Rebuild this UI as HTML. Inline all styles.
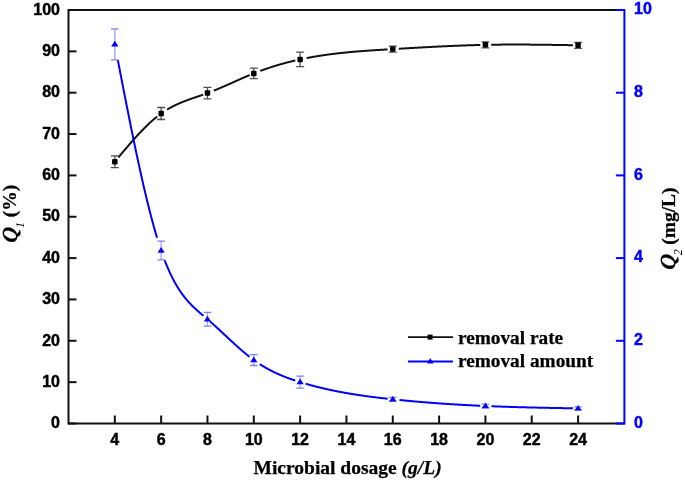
<!DOCTYPE html>
<html><head><meta charset="utf-8"><style>
html,body{margin:0;padding:0;background:#fff;}
svg{display:block;will-change:transform;}
.tl{font-family:"Liberation Sans",sans-serif;font-weight:bold;font-size:16px;stroke-width:0.45px;}
.lg{font-family:"Liberation Serif",serif;font-weight:bold;font-size:19.3px;stroke:#000;stroke-width:0.25px;}
.sub{font-family:"Liberation Serif",serif;font-style:italic;font-size:12px;}
.ti{font-family:"Liberation Serif",serif;font-weight:bold;font-size:19.5px;stroke:#000;stroke-width:0.25px;}
</style></head><body>
<svg width="685" height="482" viewBox="0 0 685 482">
<rect width="685" height="482" fill="#fff"/>
<line x1="68.5" y1="10.0" x2="624.4" y2="10.0" stroke="#111" stroke-width="2"/>
<line x1="68.5" y1="423.5" x2="624.4" y2="423.5" stroke="#111" stroke-width="2"/>
<line x1="68.5" y1="9.0" x2="68.5" y2="424.5" stroke="#111" stroke-width="2"/>
<line x1="624.4" y1="9.0" x2="624.4" y2="424.5" stroke="#0000ff" stroke-width="2"/>
<line x1="68.5" y1="423.50" x2="76.5" y2="423.50" stroke="#111" stroke-width="2"/>
<text x="60" y="428.20" text-anchor="end" class="tl" stroke="#000">0</text>
<line x1="68.5" y1="382.15" x2="76.5" y2="382.15" stroke="#111" stroke-width="2"/>
<text x="60" y="386.85" text-anchor="end" class="tl" stroke="#000">10</text>
<line x1="68.5" y1="340.80" x2="76.5" y2="340.80" stroke="#111" stroke-width="2"/>
<text x="60" y="345.50" text-anchor="end" class="tl" stroke="#000">20</text>
<line x1="68.5" y1="299.45" x2="76.5" y2="299.45" stroke="#111" stroke-width="2"/>
<text x="60" y="304.15" text-anchor="end" class="tl" stroke="#000">30</text>
<line x1="68.5" y1="258.10" x2="76.5" y2="258.10" stroke="#111" stroke-width="2"/>
<text x="60" y="262.80" text-anchor="end" class="tl" stroke="#000">40</text>
<line x1="68.5" y1="216.75" x2="76.5" y2="216.75" stroke="#111" stroke-width="2"/>
<text x="60" y="221.45" text-anchor="end" class="tl" stroke="#000">50</text>
<line x1="68.5" y1="175.40" x2="76.5" y2="175.40" stroke="#111" stroke-width="2"/>
<text x="60" y="180.10" text-anchor="end" class="tl" stroke="#000">60</text>
<line x1="68.5" y1="134.05" x2="76.5" y2="134.05" stroke="#111" stroke-width="2"/>
<text x="60" y="138.75" text-anchor="end" class="tl" stroke="#000">70</text>
<line x1="68.5" y1="92.70" x2="76.5" y2="92.70" stroke="#111" stroke-width="2"/>
<text x="60" y="97.40" text-anchor="end" class="tl" stroke="#000">80</text>
<line x1="68.5" y1="51.35" x2="76.5" y2="51.35" stroke="#111" stroke-width="2"/>
<text x="60" y="56.05" text-anchor="end" class="tl" stroke="#000">90</text>
<line x1="68.5" y1="10.00" x2="76.5" y2="10.00" stroke="#111" stroke-width="2"/>
<text x="60" y="14.70" text-anchor="end" class="tl" stroke="#000">100</text>
<line x1="615.9" y1="423.50" x2="624.4" y2="423.50" stroke="#0000ff" stroke-width="2"/>
<text x="634" y="427.70" class="tl" fill="#0000ff" stroke="#0000ff">0</text>
<line x1="615.9" y1="340.80" x2="624.4" y2="340.80" stroke="#0000ff" stroke-width="2"/>
<text x="634" y="345.00" class="tl" fill="#0000ff" stroke="#0000ff">2</text>
<line x1="615.9" y1="258.10" x2="624.4" y2="258.10" stroke="#0000ff" stroke-width="2"/>
<text x="634" y="262.30" class="tl" fill="#0000ff" stroke="#0000ff">4</text>
<line x1="615.9" y1="175.40" x2="624.4" y2="175.40" stroke="#0000ff" stroke-width="2"/>
<text x="634" y="179.60" class="tl" fill="#0000ff" stroke="#0000ff">6</text>
<line x1="615.9" y1="92.70" x2="624.4" y2="92.70" stroke="#0000ff" stroke-width="2"/>
<text x="634" y="96.90" class="tl" fill="#0000ff" stroke="#0000ff">8</text>
<line x1="615.9" y1="10.00" x2="624.4" y2="10.00" stroke="#0000ff" stroke-width="2"/>
<text x="634" y="14.20" class="tl" fill="#0000ff" stroke="#0000ff">10</text>
<line x1="114.82" y1="423.5" x2="114.82" y2="415.5" stroke="#111" stroke-width="2"/>
<text x="114.82" y="445" text-anchor="middle" class="tl" stroke="#000">4</text>
<line x1="161.15" y1="423.5" x2="161.15" y2="415.5" stroke="#111" stroke-width="2"/>
<text x="161.15" y="445" text-anchor="middle" class="tl" stroke="#000">6</text>
<line x1="207.47" y1="423.5" x2="207.47" y2="415.5" stroke="#111" stroke-width="2"/>
<text x="207.47" y="445" text-anchor="middle" class="tl" stroke="#000">8</text>
<line x1="253.80" y1="423.5" x2="253.80" y2="415.5" stroke="#111" stroke-width="2"/>
<text x="253.80" y="445" text-anchor="middle" class="tl" stroke="#000">10</text>
<line x1="300.12" y1="423.5" x2="300.12" y2="415.5" stroke="#111" stroke-width="2"/>
<text x="300.12" y="445" text-anchor="middle" class="tl" stroke="#000">12</text>
<line x1="346.45" y1="423.5" x2="346.45" y2="415.5" stroke="#111" stroke-width="2"/>
<text x="346.45" y="445" text-anchor="middle" class="tl" stroke="#000">14</text>
<line x1="392.77" y1="423.5" x2="392.77" y2="415.5" stroke="#111" stroke-width="2"/>
<text x="392.77" y="445" text-anchor="middle" class="tl" stroke="#000">16</text>
<line x1="439.10" y1="423.5" x2="439.10" y2="415.5" stroke="#111" stroke-width="2"/>
<text x="439.10" y="445" text-anchor="middle" class="tl" stroke="#000">18</text>
<line x1="485.42" y1="423.5" x2="485.42" y2="415.5" stroke="#111" stroke-width="2"/>
<text x="485.42" y="445" text-anchor="middle" class="tl" stroke="#000">20</text>
<line x1="531.75" y1="423.5" x2="531.75" y2="415.5" stroke="#111" stroke-width="2"/>
<text x="531.75" y="445" text-anchor="middle" class="tl" stroke="#000">22</text>
<line x1="578.08" y1="423.5" x2="578.08" y2="415.5" stroke="#111" stroke-width="2"/>
<text x="578.08" y="445" text-anchor="middle" class="tl" stroke="#000">24</text>
<path d="M118.32,157.50 L118.57,157.20 L118.82,156.90 L119.07,156.60 L119.32,156.30 L119.57,156.00 L119.82,155.70 L120.07,155.40 L120.32,155.10 L120.57,154.80 L120.82,154.50 L121.07,154.21 L121.32,153.91 L121.57,153.61 L121.82,153.31 L122.07,153.02 L122.32,152.72 L122.57,152.42 L122.82,152.12 L123.07,151.83 L123.32,151.53 L123.57,151.23 L123.82,150.94 L124.07,150.64 L124.32,150.35 L124.57,150.05 L124.82,149.76 L125.07,149.46 L125.32,149.17 L125.57,148.87 L125.82,148.58 L126.07,148.29 L126.32,147.99 L126.57,147.70 L126.82,147.41 L127.07,147.12 L127.32,146.82 L127.57,146.53 L127.82,146.24 L128.07,145.95 L128.32,145.66 L128.57,145.37 L128.82,145.08 L129.07,144.79 L129.32,144.50 L129.57,144.21 L129.82,143.93 L130.07,143.64 L130.32,143.35 L130.57,143.06 L130.82,142.78 L131.07,142.49 L131.32,142.21 L131.57,141.92 L131.82,141.64 L132.07,141.35 L132.32,141.07 L132.57,140.79 L132.82,140.50 L133.07,140.22 L133.32,139.94 L133.57,139.66 L133.82,139.38 L134.07,139.10 L134.32,138.82 L134.57,138.54 L134.82,138.26 L135.07,137.99 L135.32,137.71 L135.57,137.43 L135.82,137.16 L136.07,136.88 L136.32,136.61 L136.57,136.33 L136.82,136.06 L137.07,135.79 L137.32,135.51 L137.57,135.24 L137.82,134.97 L138.07,134.70 L138.32,134.43 L138.57,134.16 L138.82,133.89 L139.07,133.63 L139.32,133.36 L139.57,133.09 L139.82,132.83 L140.07,132.56 L140.32,132.30 L140.57,132.04 L140.82,131.77 L141.07,131.51 L141.32,131.25 L141.57,130.99 L141.82,130.73 L142.07,130.47 L142.32,130.21 L142.57,129.96 L142.82,129.70 L143.07,129.44 L143.32,129.19 L143.57,128.93 L143.82,128.68 L144.07,128.43 L144.32,128.18 L144.57,127.92 L144.82,127.67 L145.07,127.43 L145.32,127.18 L145.57,126.93 L145.82,126.68 L146.07,126.44 L146.32,126.19 L146.57,125.95 L146.82,125.70 L147.07,125.46 L147.32,125.22 L147.57,124.98 L147.82,124.74 L148.07,124.50 L148.32,124.26 L148.57,124.03 L148.82,123.79 L149.07,123.56 L149.32,123.32 L149.57,123.09 L149.82,122.86 L150.07,122.63 L150.32,122.40 L150.57,122.17 L150.82,121.94 L151.07,121.71 L151.32,121.49 L151.57,121.26 L151.82,121.04 L152.07,120.82 L152.32,120.60 L152.57,120.38 L152.82,120.16 L153.07,119.94 L153.32,119.72 L153.57,119.50 L153.82,119.29 L154.07,119.07 L154.32,118.86 L154.57,118.65 L154.82,118.44 L155.07,118.23 L155.32,118.02 L155.57,117.81 L155.82,117.61 L156.07,117.40 L156.32,117.20 L156.57,116.99 L156.82,116.79 L157.07,116.59 M167.15,109.55 L167.40,109.40 L167.65,109.25 L167.90,109.10 L168.15,108.96 L168.40,108.81 L168.65,108.66 L168.90,108.52 L169.15,108.38 L169.40,108.24 L169.65,108.10 L169.90,107.96 L170.15,107.82 L170.40,107.68 L170.65,107.54 L170.90,107.41 L171.15,107.27 L171.40,107.14 L171.65,107.01 L171.90,106.87 L172.15,106.74 L172.40,106.61 L172.65,106.48 L172.90,106.35 L173.15,106.23 L173.40,106.10 L173.65,105.97 L173.90,105.85 L174.15,105.72 L174.40,105.60 L174.65,105.48 L174.90,105.36 L175.15,105.24 L175.40,105.12 L175.65,105.00 L175.90,104.88 L176.15,104.76 L176.40,104.64 L176.65,104.53 L176.90,104.41 L177.15,104.30 L177.40,104.18 L177.65,104.07 L177.90,103.96 L178.15,103.85 L178.40,103.74 L178.65,103.62 L178.90,103.52 L179.15,103.41 L179.40,103.30 L179.65,103.19 L179.90,103.08 L180.15,102.98 L180.40,102.87 L180.65,102.76 L180.90,102.66 L181.15,102.56 L181.40,102.45 L181.65,102.35 L181.90,102.25 L182.15,102.15 L182.40,102.04 L182.65,101.94 L182.90,101.84 L183.15,101.74 L183.40,101.64 L183.65,101.55 L183.90,101.45 L184.15,101.35 L184.40,101.25 L184.65,101.16 L184.90,101.06 L185.15,100.96 L185.40,100.87 L185.65,100.77 L185.90,100.68 L186.15,100.58 L186.40,100.49 L186.65,100.40 L186.90,100.30 L187.15,100.21 L187.40,100.12 L187.65,100.03 L187.90,99.94 L188.15,99.84 L188.40,99.75 L188.65,99.66 L188.90,99.57 L189.15,99.48 L189.40,99.39 L189.65,99.30 L189.90,99.22 L190.15,99.13 L190.40,99.04 L190.65,98.95 L190.90,98.86 L191.15,98.77 L191.40,98.69 L191.65,98.60 L191.90,98.51 L192.15,98.42 L192.40,98.34 L192.65,98.25 L192.90,98.16 L193.15,98.08 L193.40,97.99 L193.65,97.91 L193.90,97.82 L194.15,97.73 L194.40,97.65 L194.65,97.56 L194.90,97.48 L195.15,97.39 L195.40,97.31 L195.65,97.22 L195.90,97.14 L196.15,97.05 L196.40,96.97 L196.65,96.88 L196.90,96.80 L197.15,96.71 L197.40,96.63 L197.65,96.54 L197.90,96.46 L198.15,96.37 L198.40,96.29 L198.65,96.20 L198.90,96.12 L199.15,96.03 L199.40,95.95 L199.65,95.86 L199.90,95.78 L200.15,95.69 L200.40,95.60 L200.65,95.52 L200.90,95.43 L201.15,95.35 L201.40,95.26 L201.65,95.17 L201.90,95.09 L202.15,95.00 L202.40,94.91 L202.65,94.83 L202.90,94.74 L203.15,94.65 M213.72,90.68 L213.97,90.58 L214.22,90.48 L214.47,90.38 L214.72,90.28 L214.97,90.18 L215.22,90.07 L215.47,89.97 L215.72,89.87 L215.97,89.77 L216.22,89.66 L216.47,89.56 L216.72,89.46 L216.97,89.35 L217.22,89.25 L217.47,89.14 L217.72,89.04 L217.97,88.93 L218.22,88.83 L218.47,88.72 L218.72,88.62 L218.97,88.51 L219.22,88.41 L219.47,88.30 L219.72,88.20 L219.97,88.09 L220.22,87.98 L220.47,87.88 L220.72,87.77 L220.97,87.66 L221.22,87.55 L221.47,87.45 L221.72,87.34 L221.97,87.23 L222.22,87.12 L222.47,87.02 L222.72,86.91 L222.97,86.80 L223.22,86.69 L223.47,86.58 L223.72,86.47 L223.97,86.36 L224.22,86.25 L224.47,86.15 L224.72,86.04 L224.97,85.93 L225.22,85.82 L225.47,85.71 L225.72,85.60 L225.97,85.49 L226.22,85.38 L226.47,85.27 L226.72,85.16 L226.97,85.05 L227.22,84.94 L227.47,84.83 L227.72,84.71 L227.97,84.60 L228.22,84.49 L228.47,84.38 L228.72,84.27 L228.97,84.16 L229.22,84.05 L229.47,83.94 L229.72,83.83 L229.97,83.72 L230.22,83.60 L230.47,83.49 L230.72,83.38 L230.97,83.27 L231.22,83.16 L231.47,83.05 L231.72,82.94 L231.97,82.82 L232.22,82.71 L232.47,82.60 L232.72,82.49 L232.97,82.38 L233.22,82.27 L233.47,82.15 L233.72,82.04 L233.97,81.93 L234.22,81.82 L234.47,81.71 L234.72,81.60 L234.97,81.49 L235.22,81.37 L235.47,81.26 L235.72,81.15 L235.97,81.04 L236.22,80.93 L236.47,80.82 L236.72,80.71 L236.97,80.59 L237.22,80.48 L237.47,80.37 L237.72,80.26 L237.97,80.15 L238.22,80.04 L238.47,79.93 L238.72,79.82 L238.97,79.71 L239.22,79.59 L239.47,79.48 L239.72,79.37 L239.97,79.26 L240.22,79.15 L240.47,79.04 L240.72,78.93 L240.97,78.82 L241.22,78.71 L241.47,78.60 L241.72,78.49 L241.97,78.38 L242.22,78.27 L242.47,78.16 L242.72,78.06 L242.97,77.95 L243.22,77.84 L243.47,77.73 L243.72,77.62 L243.97,77.51 L244.22,77.40 L244.47,77.29 L244.72,77.19 L244.97,77.08 L245.22,76.97 L245.47,76.86 L245.72,76.76 L245.97,76.65 L246.22,76.54 L246.47,76.43 L246.72,76.33 L246.97,76.22 L247.22,76.12 L247.47,76.01 L247.72,75.90 L247.97,75.80 L248.22,75.69 L248.47,75.59 L248.72,75.48 L248.97,75.38 L249.22,75.27 L249.47,75.17 L249.72,75.06 M260.30,70.90 L260.55,70.81 L260.80,70.72 L261.05,70.62 L261.30,70.53 L261.55,70.44 L261.80,70.35 L262.05,70.26 L262.30,70.17 L262.55,70.08 L262.80,69.99 L263.05,69.90 L263.30,69.81 L263.55,69.72 L263.80,69.63 L264.05,69.54 L264.30,69.46 L264.55,69.37 L264.80,69.28 L265.05,69.19 L265.30,69.11 L265.55,69.02 L265.80,68.93 L266.05,68.85 L266.30,68.76 L266.55,68.67 L266.80,68.59 L267.05,68.50 L267.30,68.42 L267.55,68.33 L267.80,68.25 L268.05,68.16 L268.30,68.08 L268.55,68.00 L268.80,67.91 L269.05,67.83 L269.30,67.75 L269.55,67.66 L269.80,67.58 L270.05,67.50 L270.30,67.42 L270.55,67.34 L270.80,67.26 L271.05,67.17 L271.30,67.09 L271.55,67.01 L271.80,66.93 L272.05,66.85 L272.30,66.77 L272.55,66.69 L272.80,66.61 L273.05,66.53 L273.30,66.46 L273.55,66.38 L273.80,66.30 L274.05,66.22 L274.30,66.14 L274.55,66.07 L274.80,65.99 L275.05,65.91 L275.30,65.84 L275.55,65.76 L275.80,65.68 L276.05,65.61 L276.30,65.53 L276.55,65.46 L276.80,65.38 L277.05,65.30 L277.30,65.23 L277.55,65.16 L277.80,65.08 L278.05,65.01 L278.30,64.93 L278.55,64.86 L278.80,64.79 L279.05,64.71 L279.30,64.64 L279.55,64.57 L279.80,64.50 L280.05,64.42 L280.30,64.35 L280.55,64.28 L280.80,64.21 L281.05,64.14 L281.30,64.07 L281.55,64.00 L281.80,63.93 L282.05,63.86 L282.30,63.79 L282.55,63.72 L282.80,63.65 L283.05,63.58 L283.30,63.51 L283.55,63.44 L283.80,63.37 L284.05,63.31 L284.30,63.24 L284.55,63.17 L284.80,63.10 L285.05,63.03 L285.30,62.97 L285.55,62.90 L285.80,62.83 L286.05,62.77 L286.30,62.70 L286.55,62.64 L286.80,62.57 L287.05,62.51 L287.30,62.44 L287.55,62.38 L287.80,62.31 L288.05,62.25 L288.30,62.18 L288.55,62.12 L288.80,62.05 L289.05,61.99 L289.30,61.93 L289.55,61.86 L289.80,61.80 L290.05,61.74 L290.30,61.68 L290.55,61.61 L290.80,61.55 L291.05,61.49 L291.30,61.43 L291.55,61.37 L291.80,61.31 L292.05,61.25 L292.30,61.19 L292.55,61.13 L292.80,61.07 L293.05,61.01 L293.30,60.95 L293.55,60.89 L293.80,60.83 L294.05,60.77 L294.30,60.71 L294.55,60.65 L294.80,60.59 L295.05,60.53 L295.30,60.48 M306.62,58.07 L306.88,58.02 L307.12,57.98 L307.38,57.93 L307.62,57.88 L307.88,57.83 L308.12,57.79 L308.38,57.74 L308.62,57.69 L308.88,57.64 L309.12,57.60 L309.38,57.55 L309.62,57.51 L309.88,57.46 L310.12,57.41 L310.38,57.37 L310.62,57.32 L310.88,57.28 L311.12,57.23 L311.38,57.19 L311.62,57.14 L311.88,57.10 L312.12,57.05 L312.38,57.01 L312.62,56.96 L312.88,56.92 L313.12,56.88 L313.38,56.83 L313.62,56.79 L313.88,56.75 L314.12,56.70 L314.38,56.66 L314.62,56.62 L314.88,56.58 L315.12,56.53 L315.38,56.49 L315.62,56.45 L315.88,56.41 L316.12,56.37 L316.38,56.33 L316.62,56.28 L316.88,56.24 L317.12,56.20 L317.38,56.16 L317.62,56.12 L317.88,56.08 L318.12,56.04 L318.38,56.00 L318.62,55.96 L318.88,55.92 L319.12,55.88 L319.38,55.84 L319.62,55.80 L319.88,55.76 L320.12,55.73 L320.38,55.69 L320.62,55.65 L320.88,55.61 L321.12,55.57 L321.38,55.53 L321.62,55.50 L321.88,55.46 L322.12,55.42 L322.38,55.38 L322.62,55.35 L322.88,55.31 L323.12,55.27 L323.38,55.23 L323.62,55.20 L323.88,55.16 L324.12,55.13 L324.38,55.09 L324.62,55.05 L324.88,55.02 L325.12,54.98 L325.38,54.95 L325.62,54.91 L325.88,54.88 L326.12,54.84 L326.38,54.81 L326.62,54.77 L326.88,54.74 L327.12,54.70 L327.38,54.67 L327.62,54.63 L327.88,54.60 L328.12,54.57 L328.38,54.53 L328.62,54.50 L328.88,54.47 L329.12,54.43 L329.38,54.40 L329.62,54.37 L329.88,54.33 L330.12,54.30 L330.38,54.27 L330.62,54.24 L330.88,54.20 L331.12,54.17 L331.38,54.14 L331.62,54.11 L331.88,54.08 L332.12,54.04 L332.38,54.01 L332.62,53.98 L332.88,53.95 L333.12,53.92 L333.38,53.89 L333.62,53.86 L333.88,53.83 L334.12,53.80 L334.38,53.77 L334.62,53.73 L334.88,53.70 L335.12,53.67 L335.38,53.65 L335.62,53.62 L335.88,53.59 L336.12,53.56 L336.38,53.53 L336.62,53.50 L336.88,53.47 L337.12,53.44 L337.38,53.41 L337.62,53.38 L337.88,53.35 L338.12,53.33 L338.38,53.30 L338.62,53.27 L338.88,53.24 L339.12,53.21 L339.38,53.18 L339.62,53.16 L339.88,53.13 L340.12,53.10 L340.38,53.07 L340.62,53.05 L340.88,53.02 L341.12,52.99 L341.38,52.97 L341.62,52.94 L341.88,52.91 L342.12,52.89 L342.38,52.86 L342.62,52.83 L342.88,52.81 L343.12,52.78 L343.38,52.76 L343.62,52.73 L343.88,52.70 L344.12,52.68 L344.38,52.65 L344.62,52.63 L344.88,52.60 L345.12,52.58 L345.38,52.55 L345.62,52.53 L345.88,52.50 L346.12,52.48 L346.38,52.45 L346.62,52.43 L346.88,52.40 L347.12,52.38 L347.38,52.35 L347.62,52.33 L347.88,52.31 L348.12,52.28 L348.38,52.26 L348.62,52.24 L348.88,52.21 L349.12,52.19 L349.38,52.16 L349.62,52.14 L349.88,52.12 L350.12,52.09 L350.38,52.07 L350.62,52.05 L350.88,52.03 L351.12,52.00 L351.38,51.98 L351.62,51.96 L351.88,51.94 L352.12,51.91 L352.38,51.89 L352.62,51.87 L352.88,51.85 L353.12,51.82 L353.38,51.80 L353.62,51.78 L353.88,51.76 L354.12,51.74 L354.38,51.72 L354.62,51.69 L354.88,51.67 L355.12,51.65 L355.38,51.63 L355.62,51.61 L355.88,51.59 L356.12,51.57 L356.38,51.55 L356.62,51.53 L356.88,51.50 L357.12,51.48 L357.38,51.46 L357.62,51.44 L357.88,51.42 L358.12,51.40 L358.38,51.38 L358.62,51.36 L358.88,51.34 L359.12,51.32 L359.38,51.30 L359.62,51.28 L359.88,51.26 L360.12,51.24 L360.38,51.22 L360.62,51.20 L360.88,51.18 L361.12,51.16 L361.38,51.15 L361.62,51.13 L361.88,51.11 L362.12,51.09 L362.38,51.07 L362.62,51.05 L362.88,51.03 L363.12,51.01 L363.38,50.99 L363.62,50.97 L363.88,50.96 L364.12,50.94 L364.38,50.92 L364.62,50.90 L364.88,50.88 L365.12,50.86 L365.38,50.85 L365.62,50.83 L365.88,50.81 L366.12,50.79 L366.38,50.77 L366.62,50.75 L366.88,50.74 L367.12,50.72 L367.38,50.70 L367.62,50.68 L367.88,50.67 L368.12,50.65 L368.38,50.63 L368.62,50.61 L368.88,50.60 L369.12,50.58 L369.38,50.56 L369.62,50.54 L369.88,50.53 L370.12,50.51 L370.38,50.49 L370.62,50.48 L370.88,50.46 L371.12,50.44 L371.38,50.42 L371.62,50.41 L371.88,50.39 L372.12,50.37 L372.38,50.36 L372.62,50.34 L372.88,50.32 L373.12,50.31 L373.38,50.29 L373.62,50.27 L373.88,50.26 L374.12,50.24 L374.38,50.23 L374.62,50.21 L374.88,50.19 L375.12,50.18 L375.38,50.16 L375.62,50.14 L375.88,50.13 L376.12,50.11 L376.38,50.10 L376.62,50.08 L376.88,50.06 L377.12,50.05 L377.38,50.03 L377.62,50.02 L377.88,50.00 L378.12,49.98 L378.38,49.97 L378.62,49.95 L378.88,49.94 L379.12,49.92 L379.38,49.91 L379.62,49.89 L379.88,49.87 L380.12,49.86 L380.38,49.84 L380.62,49.83 L380.88,49.81 L381.12,49.80 L381.38,49.78 L381.62,49.77 L381.88,49.75 L382.12,49.74 L382.38,49.72 L382.62,49.71 L382.88,49.69 L383.12,49.68 L383.38,49.66 L383.62,49.64 L383.88,49.63 L384.12,49.61 L384.38,49.60 L384.62,49.58 L384.88,49.57 L385.12,49.55 L385.38,49.54 L385.62,49.52 L385.88,49.51 L386.12,49.49 L386.38,49.48 L386.62,49.46 L386.88,49.45 L387.12,49.43 L387.38,49.42 L387.62,49.40 M398.77,48.75 L399.02,48.73 L399.27,48.72 L399.52,48.70 L399.77,48.69 L400.02,48.67 L400.27,48.66 L400.52,48.64 L400.77,48.63 L401.02,48.61 L401.27,48.60 L401.52,48.59 L401.77,48.57 L402.02,48.56 L402.27,48.54 L402.52,48.53 L402.77,48.51 L403.02,48.50 L403.27,48.48 L403.52,48.47 L403.77,48.45 L404.02,48.44 L404.27,48.42 L404.52,48.41 L404.77,48.40 L405.02,48.38 L405.27,48.37 L405.52,48.35 L405.77,48.34 L406.02,48.32 L406.27,48.31 L406.52,48.29 L406.77,48.28 L407.02,48.27 L407.27,48.25 L407.52,48.24 L407.77,48.22 L408.02,48.21 L408.27,48.19 L408.52,48.18 L408.77,48.16 L409.02,48.15 L409.27,48.14 L409.52,48.12 L409.77,48.11 L410.02,48.09 L410.27,48.08 L410.52,48.06 L410.77,48.05 L411.02,48.04 L411.27,48.02 L411.52,48.01 L411.77,47.99 L412.02,47.98 L412.27,47.96 L412.52,47.95 L412.77,47.94 L413.02,47.92 L413.27,47.91 L413.52,47.89 L413.77,47.88 L414.02,47.86 L414.27,47.85 L414.52,47.84 L414.77,47.82 L415.02,47.81 L415.27,47.79 L415.52,47.78 L415.77,47.77 L416.02,47.75 L416.27,47.74 L416.52,47.72 L416.77,47.71 L417.02,47.69 L417.27,47.68 L417.52,47.67 L417.77,47.65 L418.02,47.64 L418.27,47.63 L418.52,47.61 L418.77,47.60 L419.02,47.58 L419.27,47.57 L419.52,47.56 L419.77,47.54 L420.02,47.53 L420.27,47.51 L420.52,47.50 L420.77,47.49 L421.02,47.47 L421.27,47.46 L421.52,47.45 L421.77,47.43 L422.02,47.42 L422.27,47.40 L422.52,47.39 L422.77,47.38 L423.02,47.36 L423.27,47.35 L423.52,47.34 L423.77,47.32 L424.02,47.31 L424.27,47.30 L424.52,47.28 L424.77,47.27 L425.02,47.25 L425.27,47.24 L425.52,47.23 L425.77,47.21 L426.02,47.20 L426.27,47.19 L426.52,47.17 L426.77,47.16 L427.02,47.15 L427.27,47.13 L427.52,47.12 L427.77,47.11 L428.02,47.09 L428.27,47.08 L428.52,47.07 L428.77,47.05 L429.02,47.04 L429.27,47.03 L429.52,47.01 L429.77,47.00 L430.02,46.99 L430.27,46.98 L430.52,46.96 L430.77,46.95 L431.02,46.94 L431.27,46.92 L431.52,46.91 L431.77,46.90 L432.02,46.88 L432.27,46.87 L432.52,46.86 L432.77,46.85 L433.02,46.83 L433.27,46.82 L433.52,46.81 L433.77,46.79 L434.02,46.78 L434.27,46.77 L434.52,46.76 L434.77,46.74 L435.02,46.73 L435.27,46.72 L435.52,46.71 L435.77,46.69 L436.02,46.68 L436.27,46.67 L436.52,46.66 L436.77,46.64 L437.02,46.63 L437.27,46.62 L437.52,46.61 L437.77,46.59 L438.02,46.58 L438.27,46.57 L438.52,46.56 L438.77,46.54 L439.02,46.53 L439.27,46.52 L439.52,46.51 L439.77,46.50 L440.02,46.48 L440.27,46.47 L440.52,46.46 L440.77,46.45 L441.02,46.43 L441.27,46.42 L441.52,46.41 L441.77,46.40 L442.02,46.39 L442.27,46.37 L442.52,46.36 L442.77,46.35 L443.02,46.34 L443.27,46.33 L443.52,46.32 L443.77,46.30 L444.02,46.29 L444.27,46.28 L444.52,46.27 L444.77,46.26 L445.02,46.25 L445.27,46.23 L445.52,46.22 L445.77,46.21 L446.02,46.20 L446.27,46.19 L446.52,46.18 L446.77,46.17 L447.02,46.15 L447.27,46.14 L447.52,46.13 L447.77,46.12 L448.02,46.11 L448.27,46.10 L448.52,46.09 L448.77,46.08 L449.02,46.06 L449.27,46.05 L449.52,46.04 L449.77,46.03 L450.02,46.02 L450.27,46.01 L450.52,46.00 L450.77,45.99 L451.02,45.98 L451.27,45.97 L451.52,45.95 L451.77,45.94 L452.02,45.93 L452.27,45.92 L452.52,45.91 L452.77,45.90 L453.02,45.89 L453.27,45.88 L453.52,45.87 L453.77,45.86 L454.02,45.85 L454.27,45.84 L454.52,45.83 L454.77,45.82 L455.02,45.81 L455.27,45.80 L455.52,45.79 L455.77,45.78 L456.02,45.77 L456.27,45.76 L456.52,45.75 L456.77,45.74 L457.02,45.73 L457.27,45.72 L457.52,45.71 L457.77,45.70 L458.02,45.69 L458.27,45.68 L458.52,45.67 L458.77,45.66 L459.02,45.65 L459.27,45.64 L459.52,45.63 L459.77,45.62 L460.02,45.61 L460.27,45.60 L460.52,45.59 L460.77,45.58 L461.02,45.57 L461.27,45.56 L461.52,45.55 L461.77,45.54 L462.02,45.53 L462.27,45.52 L462.52,45.51 L462.77,45.50 L463.02,45.50 L463.27,45.49 L463.52,45.48 L463.77,45.47 L464.02,45.46 L464.27,45.45 L464.52,45.44 L464.77,45.43 L465.02,45.42 L465.27,45.41 L465.52,45.41 L465.77,45.40 L466.02,45.39 L466.27,45.38 L466.52,45.37 L466.77,45.36 L467.02,45.35 L467.27,45.35 L467.52,45.34 L467.77,45.33 L468.02,45.32 L468.27,45.31 L468.52,45.30 L468.77,45.30 L469.02,45.29 L469.27,45.28 L469.52,45.27 L469.77,45.26 L470.02,45.26 L470.27,45.25 L470.52,45.24 L470.77,45.23 L471.02,45.22 L471.27,45.22 L471.52,45.21 L471.77,45.20 L472.02,45.19 L472.27,45.19 L472.52,45.18 L472.77,45.17 L473.02,45.16 L473.27,45.16 L473.52,45.15 L473.77,45.14 L474.02,45.13 L474.27,45.13 L474.52,45.12 L474.77,45.11 L475.02,45.10 L475.27,45.10 L475.52,45.09 L475.77,45.08 L476.02,45.08 L476.27,45.07 L476.52,45.06 L476.77,45.06 L477.02,45.05 L477.27,45.04 L477.52,45.04 L477.77,45.03 L478.02,45.02 L478.27,45.02 L478.52,45.01 L478.77,45.00 L479.02,45.00 L479.27,44.99 L479.52,44.98 L479.77,44.98 L480.02,44.97 L480.27,44.97 M491.17,44.75 L491.42,44.74 L491.67,44.74 L491.92,44.73 L492.17,44.73 L492.42,44.73 L492.67,44.72 L492.92,44.72 L493.17,44.72 L493.42,44.71 L493.67,44.71 L493.92,44.71 L494.17,44.70 L494.42,44.70 L494.67,44.70 L494.92,44.69 L495.17,44.69 L495.42,44.69 L495.67,44.68 L495.92,44.68 L496.17,44.68 L496.42,44.67 L496.67,44.67 L496.92,44.67 L497.17,44.66 L497.42,44.66 L497.67,44.66 L497.92,44.66 L498.17,44.65 L498.42,44.65 L498.67,44.65 L498.92,44.65 L499.17,44.64 L499.42,44.64 L499.67,44.64 L499.92,44.64 L500.17,44.63 L500.42,44.63 L500.67,44.63 L500.92,44.63 L501.17,44.62 L501.42,44.62 L501.67,44.62 L501.92,44.62 L502.17,44.62 L502.42,44.61 L502.67,44.61 L502.92,44.61 L503.17,44.61 L503.42,44.61 L503.67,44.61 L503.92,44.60 L504.17,44.60 L504.42,44.60 L504.67,44.60 L504.92,44.60 L505.17,44.60 L505.42,44.59 L505.67,44.59 L505.92,44.59 L506.17,44.59 L506.42,44.59 L506.67,44.59 L506.92,44.59 L507.17,44.58 L507.42,44.58 L507.67,44.58 L507.92,44.58 L508.17,44.58 L508.42,44.58 L508.67,44.58 L508.92,44.58 L509.17,44.58 L509.42,44.58 L509.67,44.57 L509.92,44.57 L510.17,44.57 L510.42,44.57 L510.67,44.57 L510.92,44.57 L511.17,44.57 L511.42,44.57 L511.67,44.57 L511.92,44.57 L512.17,44.57 L512.42,44.57 L512.67,44.57 L512.92,44.57 L513.17,44.57 L513.42,44.57 L513.67,44.57 L513.92,44.57 L514.17,44.57 L514.42,44.57 L514.67,44.57 L514.92,44.57 L515.17,44.57 L515.42,44.57 L515.67,44.57 L515.92,44.57 L516.17,44.57 L516.42,44.57 L516.67,44.57 L516.92,44.57 L517.17,44.57 L517.42,44.57 L517.67,44.57 L517.92,44.57 L518.17,44.57 L518.42,44.57 L518.67,44.57 L518.92,44.57 L519.17,44.57 L519.42,44.57 L519.67,44.57 L519.92,44.57 L520.17,44.57 L520.42,44.57 L520.67,44.57 L520.92,44.58 L521.17,44.58 L521.42,44.58 L521.67,44.58 L521.92,44.58 L522.17,44.58 L522.42,44.58 L522.67,44.58 L522.92,44.58 L523.17,44.58 L523.42,44.58 L523.67,44.59 L523.92,44.59 L524.17,44.59 L524.42,44.59 L524.67,44.59 L524.92,44.59 L525.17,44.59 L525.42,44.59 L525.67,44.60 L525.92,44.60 L526.17,44.60 L526.42,44.60 L526.67,44.60 L526.92,44.60 L527.17,44.60 L527.42,44.61 L527.67,44.61 L527.92,44.61 L528.17,44.61 L528.42,44.61 L528.67,44.61 L528.92,44.62 L529.17,44.62 L529.42,44.62 L529.67,44.62 L529.92,44.62 L530.17,44.62 L530.42,44.63 L530.67,44.63 L530.92,44.63 L531.17,44.63 L531.42,44.63 L531.67,44.64 L531.92,44.64 L532.17,44.64 L532.42,44.64 L532.67,44.64 L532.92,44.65 L533.17,44.65 L533.42,44.65 L533.67,44.65 L533.92,44.65 L534.17,44.66 L534.42,44.66 L534.67,44.66 L534.92,44.66 L535.17,44.67 L535.42,44.67 L535.67,44.67 L535.92,44.67 L536.17,44.68 L536.42,44.68 L536.67,44.68 L536.92,44.68 L537.17,44.69 L537.42,44.69 L537.67,44.69 L537.92,44.69 L538.17,44.70 L538.42,44.70 L538.67,44.70 L538.92,44.70 L539.17,44.71 L539.42,44.71 L539.67,44.71 L539.92,44.71 L540.17,44.72 L540.42,44.72 L540.67,44.72 L540.92,44.73 L541.17,44.73 L541.42,44.73 L541.67,44.73 L541.92,44.74 L542.17,44.74 L542.42,44.74 L542.67,44.75 L542.92,44.75 L543.17,44.75 L543.42,44.76 L543.67,44.76 L543.92,44.76 L544.17,44.76 L544.42,44.77 L544.67,44.77 L544.92,44.77 L545.17,44.78 L545.42,44.78 L545.67,44.78 L545.92,44.79 L546.17,44.79 L546.42,44.79 L546.67,44.80 L546.92,44.80 L547.17,44.80 L547.42,44.81 L547.67,44.81 L547.92,44.81 L548.17,44.82 L548.42,44.82 L548.67,44.82 L548.92,44.83 L549.17,44.83 L549.42,44.83 L549.67,44.84 L549.92,44.84 L550.17,44.84 L550.42,44.85 L550.67,44.85 L550.92,44.85 L551.17,44.86 L551.42,44.86 L551.67,44.87 L551.92,44.87 L552.17,44.87 L552.42,44.88 L552.67,44.88 L552.92,44.88 L553.17,44.89 L553.42,44.89 L553.67,44.89 L553.92,44.90 L554.17,44.90 L554.42,44.91 L554.67,44.91 L554.92,44.91 L555.17,44.92 L555.42,44.92 L555.67,44.93 L555.92,44.93 L556.17,44.93 L556.42,44.94 L556.67,44.94 L556.92,44.94 L557.17,44.95 L557.42,44.95 L557.67,44.96 L557.92,44.96 L558.17,44.96 L558.42,44.97 L558.67,44.97 L558.92,44.98 L559.17,44.98 L559.42,44.98 L559.67,44.99 L559.92,44.99 L560.17,45.00 L560.42,45.00 L560.67,45.00 L560.92,45.01 L561.17,45.01 L561.42,45.02 L561.67,45.02 L561.92,45.02 L562.17,45.03 L562.42,45.03 L562.67,45.04 L562.92,45.04 L563.17,45.04 L563.42,45.05 L563.67,45.05 L563.92,45.06 L564.17,45.06 L564.42,45.07 L564.67,45.07 L564.92,45.07 L565.17,45.08 L565.42,45.08 L565.67,45.09 L565.92,45.09 L566.17,45.09 L566.42,45.10 L566.67,45.10 L566.92,45.11 L567.17,45.11 L567.42,45.12 L567.67,45.12 L567.92,45.12 L568.17,45.13 L568.42,45.13 L568.67,45.14 L568.92,45.14 L569.17,45.15 L569.42,45.15 L569.67,45.15 L569.92,45.16 L570.17,45.16 L570.42,45.17 L570.67,45.17 L570.92,45.18 L571.17,45.18 L571.42,45.18 L571.67,45.19 L571.92,45.19 L572.17,45.20 L572.42,45.20 L572.67,45.21 L572.92,45.21" fill="none" stroke="#111" stroke-width="2"/>
<path d="M117.82,59.97 L118.07,61.27 L118.32,62.57 L118.57,63.87 L118.82,65.17 L119.07,66.47 L119.32,67.76 L119.57,69.06 L119.82,70.36 L120.07,71.65 L120.32,72.95 L120.57,74.24 L120.82,75.54 L121.07,76.83 L121.32,78.12 L121.57,79.41 L121.82,80.70 L122.07,81.99 L122.32,83.28 L122.57,84.57 L122.82,85.85 L123.07,87.14 L123.32,88.42 L123.57,89.70 L123.82,90.99 L124.07,92.27 L124.32,93.55 L124.57,94.82 L124.82,96.10 L125.07,97.38 L125.32,98.65 L125.57,99.92 L125.82,101.19 L126.07,102.46 L126.32,103.73 L126.57,105.00 L126.82,106.26 L127.07,107.53 L127.32,108.79 L127.57,110.05 L127.82,111.31 L128.07,112.56 L128.32,113.82 L128.57,115.07 L128.82,116.32 L129.07,117.57 L129.32,118.82 L129.57,120.07 L129.82,121.31 L130.07,122.55 L130.32,123.79 L130.57,125.03 L130.82,126.27 L131.07,127.50 L131.32,128.73 L131.57,129.96 L131.82,131.19 L132.07,132.41 L132.32,133.64 L132.57,134.86 L132.82,136.07 L133.07,137.29 L133.32,138.50 L133.57,139.71 L133.82,140.92 L134.07,142.13 L134.32,143.33 L134.57,144.53 L134.82,145.73 L135.07,146.92 L135.32,148.11 L135.57,149.30 L135.82,150.49 L136.07,151.68 L136.32,152.86 L136.57,154.04 L136.82,155.21 L137.07,156.38 L137.32,157.55 L137.57,158.72 L137.82,159.88 L138.07,161.04 L138.32,162.20 L138.57,163.36 L138.82,164.51 L139.07,165.66 L139.32,166.80 L139.57,167.94 L139.82,169.08 L140.07,170.22 L140.32,171.35 L140.57,172.48 L140.82,173.60 L141.07,174.72 L141.32,175.84 L141.57,176.96 L141.82,178.07 L142.07,179.17 L142.32,180.28 L142.57,181.38 L142.82,182.47 L143.07,183.57 L143.32,184.66 L143.57,185.74 L143.82,186.82 L144.07,187.90 L144.32,188.97 L144.57,190.04 L144.82,191.11 L145.07,192.17 L145.32,193.23 L145.57,194.28 L145.82,195.33 L146.07,196.38 L146.32,197.42 L146.57,198.46 L146.82,199.49 L147.07,200.52 L147.32,201.54 L147.57,202.56 L147.82,203.58 L148.07,204.59 L148.32,205.60 L148.57,206.60 L148.82,207.60 L149.07,208.59 L149.32,209.58 L149.57,210.56 L149.82,211.54 L150.07,212.52 L150.32,213.49 L150.57,214.46 L150.82,215.42 L151.07,216.37 L151.32,217.33 L151.57,218.27 L151.82,219.21 L152.07,220.15 L152.32,221.08 L152.57,222.01 L152.82,222.93 L153.07,223.85 L153.32,224.76 L153.57,225.67 L153.82,226.57 L154.07,227.47 L154.32,228.36 L154.57,229.24 L154.82,230.12 L155.07,231.00 L155.32,231.87 L155.57,232.73 L155.82,233.59 L156.07,234.45 L156.32,235.29 L156.57,236.14 L156.82,236.97 L157.07,237.81 M164.65,260.23 L164.90,260.88 L165.15,261.52 L165.40,262.16 L165.65,262.79 L165.90,263.41 L166.15,264.03 L166.40,264.65 L166.65,265.26 L166.90,265.86 L167.15,266.46 L167.40,267.05 L167.65,267.64 L167.90,268.22 L168.15,268.80 L168.40,269.37 L168.65,269.94 L168.90,270.50 L169.15,271.06 L169.40,271.61 L169.65,272.16 L169.90,272.71 L170.15,273.24 L170.40,273.78 L170.65,274.30 L170.90,274.83 L171.15,275.35 L171.40,275.86 L171.65,276.37 L171.90,276.87 L172.15,277.37 L172.40,277.87 L172.65,278.36 L172.90,278.85 L173.15,279.33 L173.40,279.81 L173.65,280.28 L173.90,280.75 L174.15,281.21 L174.40,281.67 L174.65,282.13 L174.90,282.58 L175.15,283.03 L175.40,283.47 L175.65,283.91 L175.90,284.35 L176.15,284.78 L176.40,285.21 L176.65,285.63 L176.90,286.05 L177.15,286.47 L177.40,286.88 L177.65,287.29 L177.90,287.69 L178.15,288.09 L178.40,288.49 L178.65,288.88 L178.90,289.27 L179.15,289.66 L179.40,290.04 L179.65,290.42 L179.90,290.79 L180.15,291.17 L180.40,291.53 L180.65,291.90 L180.90,292.26 L181.15,292.62 L181.40,292.98 L181.65,293.33 L181.90,293.68 L182.15,294.02 L182.40,294.37 L182.65,294.71 L182.90,295.04 L183.15,295.38 L183.40,295.71 L183.65,296.03 L183.90,296.36 L184.15,296.68 L184.40,297.00 L184.65,297.32 L184.90,297.63 L185.15,297.94 L185.40,298.25 L185.65,298.56 L185.90,298.86 L186.15,299.16 L186.40,299.46 L186.65,299.75 L186.90,300.05 L187.15,300.34 L187.40,300.62 L187.65,300.91 L187.90,301.19 L188.15,301.47 L188.40,301.75 L188.65,302.03 L188.90,302.31 L189.15,302.58 L189.40,302.85 L189.65,303.12 L189.90,303.38 L190.15,303.65 L190.40,303.91 L190.65,304.17 L190.90,304.43 L191.15,304.68 L191.40,304.94 L191.65,305.19 L191.90,305.44 L192.15,305.69 L192.40,305.94 L192.65,306.19 L192.90,306.43 L193.15,306.68 L193.40,306.92 L193.65,307.16 L193.90,307.40 L194.15,307.63 L194.40,307.87 L194.65,308.10 L194.90,308.34 L195.15,308.57 L195.40,308.80 L195.65,309.03 L195.90,309.26 L196.15,309.49 L196.40,309.71 L196.65,309.94 L196.90,310.16 L197.15,310.38 L197.40,310.61 L197.65,310.83 L197.90,311.05 L198.15,311.27 L198.40,311.49 L198.65,311.70 L198.90,311.92 L199.15,312.14 L199.40,312.35 L199.65,312.57 L199.90,312.78 L200.15,313.00 L200.40,313.21 L200.65,313.43 L200.90,313.64 L201.15,313.85 L201.40,314.06 L201.65,314.27 L201.90,314.49 L202.15,314.70 L202.40,314.91 L202.65,315.12 L202.90,315.33 L203.15,315.54 L203.40,315.75 M209.97,321.37 L210.22,321.59 L210.47,321.81 L210.72,322.03 L210.97,322.25 L211.22,322.47 L211.47,322.70 L211.72,322.92 L211.97,323.14 L212.22,323.37 L212.47,323.59 L212.72,323.81 L212.97,324.04 L213.22,324.26 L213.47,324.49 L213.72,324.71 L213.97,324.94 L214.22,325.17 L214.47,325.39 L214.72,325.62 L214.97,325.85 L215.22,326.07 L215.47,326.30 L215.72,326.53 L215.97,326.76 L216.22,326.99 L216.47,327.22 L216.72,327.44 L216.97,327.67 L217.22,327.90 L217.47,328.13 L217.72,328.36 L217.97,328.59 L218.22,328.83 L218.47,329.06 L218.72,329.29 L218.97,329.52 L219.22,329.75 L219.47,329.98 L219.72,330.21 L219.97,330.45 L220.22,330.68 L220.47,330.91 L220.72,331.14 L220.97,331.38 L221.22,331.61 L221.47,331.84 L221.72,332.07 L221.97,332.31 L222.22,332.54 L222.47,332.77 L222.72,333.01 L222.97,333.24 L223.22,333.47 L223.47,333.71 L223.72,333.94 L223.97,334.17 L224.22,334.41 L224.47,334.64 L224.72,334.88 L224.97,335.11 L225.22,335.34 L225.47,335.58 L225.72,335.81 L225.97,336.04 L226.22,336.28 L226.47,336.51 L226.72,336.74 L226.97,336.98 L227.22,337.21 L227.47,337.44 L227.72,337.68 L227.97,337.91 L228.22,338.14 L228.47,338.38 L228.72,338.61 L228.97,338.84 L229.22,339.07 L229.47,339.31 L229.72,339.54 L229.97,339.77 L230.22,340.00 L230.47,340.24 L230.72,340.47 L230.97,340.70 L231.22,340.93 L231.47,341.16 L231.72,341.39 L231.97,341.62 L232.22,341.85 L232.47,342.08 L232.72,342.31 L232.97,342.54 L233.22,342.77 L233.47,343.00 L233.72,343.23 L233.97,343.46 L234.22,343.69 L234.47,343.92 L234.72,344.14 L234.97,344.37 L235.22,344.60 L235.47,344.83 L235.72,345.05 L235.97,345.28 L236.22,345.50 L236.47,345.73 L236.72,345.95 L236.97,346.18 L237.22,346.40 L237.47,346.63 L237.72,346.85 L237.97,347.08 L238.22,347.30 L238.47,347.52 L238.72,347.74 L238.97,347.96 L239.22,348.19 L239.47,348.41 L239.72,348.63 L239.97,348.85 L240.22,349.07 L240.47,349.28 L240.72,349.50 L240.97,349.72 L241.22,349.94 L241.47,350.15 L241.72,350.37 L241.97,350.59 L242.22,350.80 L242.47,351.02 L242.72,351.23 L242.97,351.44 L243.22,351.66 L243.47,351.87 L243.72,352.08 L243.97,352.29 L244.22,352.50 L244.47,352.71 L244.72,352.92 L244.97,353.13 L245.22,353.34 L245.47,353.55 L245.72,353.76 L245.97,353.96 L246.22,354.17 L246.47,354.37 L246.72,354.58 L246.97,354.78 L247.22,354.98 L247.47,355.19 L247.72,355.39 L247.97,355.59 L248.22,355.79 L248.47,355.99 L248.72,356.19 L248.97,356.39 L249.22,356.58 L249.47,356.78 M259.80,364.16 L260.05,364.32 L260.30,364.48 L260.55,364.64 L260.80,364.80 L261.05,364.95 L261.30,365.11 L261.55,365.27 L261.80,365.42 L262.05,365.58 L262.30,365.73 L262.55,365.88 L262.80,366.03 L263.05,366.18 L263.30,366.33 L263.55,366.48 L263.80,366.63 L264.05,366.78 L264.30,366.93 L264.55,367.08 L264.80,367.22 L265.05,367.37 L265.30,367.51 L265.55,367.65 L265.80,367.80 L266.05,367.94 L266.30,368.08 L266.55,368.22 L266.80,368.36 L267.05,368.50 L267.30,368.64 L267.55,368.78 L267.80,368.92 L268.05,369.05 L268.30,369.19 L268.55,369.32 L268.80,369.46 L269.05,369.59 L269.30,369.72 L269.55,369.86 L269.80,369.99 L270.05,370.12 L270.30,370.25 L270.55,370.38 L270.80,370.51 L271.05,370.64 L271.30,370.76 L271.55,370.89 L271.80,371.02 L272.05,371.14 L272.30,371.27 L272.55,371.39 L272.80,371.52 L273.05,371.64 L273.30,371.76 L273.55,371.89 L273.80,372.01 L274.05,372.13 L274.30,372.25 L274.55,372.37 L274.80,372.49 L275.05,372.61 L275.30,372.72 L275.55,372.84 L275.80,372.96 L276.05,373.07 L276.30,373.19 L276.55,373.30 L276.80,373.42 L277.05,373.53 L277.30,373.65 L277.55,373.76 L277.80,373.87 L278.05,373.98 L278.30,374.09 L278.55,374.20 L278.80,374.31 L279.05,374.42 L279.30,374.53 L279.55,374.64 L279.80,374.75 L280.05,374.86 L280.30,374.96 L280.55,375.07 L280.80,375.18 L281.05,375.28 L281.30,375.39 L281.55,375.49 L281.80,375.59 L282.05,375.70 L282.30,375.80 L282.55,375.90 L282.80,376.00 L283.05,376.11 L283.30,376.21 L283.55,376.31 L283.80,376.41 L284.05,376.51 L284.30,376.60 L284.55,376.70 L284.80,376.80 L285.05,376.90 L285.30,377.00 L285.55,377.09 L285.80,377.19 L286.05,377.29 L286.30,377.38 L286.55,377.48 L286.80,377.57 L287.05,377.66 L287.30,377.76 L287.55,377.85 L287.80,377.95 L288.05,378.04 L288.30,378.13 L288.55,378.22 L288.80,378.31 L289.05,378.40 L289.30,378.49 L289.55,378.58 L289.80,378.67 L290.05,378.76 L290.30,378.85 L290.55,378.94 L290.80,379.03 L291.05,379.12 L291.30,379.21 L291.55,379.29 L291.80,379.38 L292.05,379.47 L292.30,379.55 L292.55,379.64 L292.80,379.72 L293.05,379.81 L293.30,379.89 L293.55,379.98 L293.80,380.06 L294.05,380.15 L294.30,380.23 L294.55,380.31 L294.80,380.40 L295.05,380.48 L295.30,380.56 M305.62,383.75 L305.88,383.82 L306.12,383.89 L306.38,383.96 L306.62,384.03 L306.88,384.11 L307.12,384.18 L307.38,384.25 L307.62,384.32 L307.88,384.39 L308.12,384.46 L308.38,384.53 L308.62,384.60 L308.88,384.67 L309.12,384.74 L309.38,384.81 L309.62,384.88 L309.88,384.95 L310.12,385.02 L310.38,385.08 L310.62,385.15 L310.88,385.22 L311.12,385.29 L311.38,385.36 L311.62,385.42 L311.88,385.49 L312.12,385.56 L312.38,385.63 L312.62,385.69 L312.88,385.76 L313.12,385.82 L313.38,385.89 L313.62,385.96 L313.88,386.02 L314.12,386.09 L314.38,386.15 L314.62,386.22 L314.88,386.28 L315.12,386.35 L315.38,386.41 L315.62,386.48 L315.88,386.54 L316.12,386.60 L316.38,386.67 L316.62,386.73 L316.88,386.80 L317.12,386.86 L317.38,386.92 L317.62,386.98 L317.88,387.05 L318.12,387.11 L318.38,387.17 L318.62,387.23 L318.88,387.30 L319.12,387.36 L319.38,387.42 L319.62,387.48 L319.88,387.54 L320.12,387.60 L320.38,387.66 L320.62,387.72 L320.88,387.78 L321.12,387.84 L321.38,387.90 L321.62,387.96 L321.88,388.02 L322.12,388.08 L322.38,388.14 L322.62,388.20 L322.88,388.26 L323.12,388.32 L323.38,388.38 L323.62,388.43 L323.88,388.49 L324.12,388.55 L324.38,388.61 L324.62,388.67 L324.88,388.72 L325.12,388.78 L325.38,388.84 L325.62,388.89 L325.88,388.95 L326.12,389.01 L326.38,389.06 L326.62,389.12 L326.88,389.18 L327.12,389.23 L327.38,389.29 L327.62,389.34 L327.88,389.40 L328.12,389.45 L328.38,389.51 L328.62,389.56 L328.88,389.62 L329.12,389.67 L329.38,389.73 L329.62,389.78 L329.88,389.83 L330.12,389.89 L330.38,389.94 L330.62,390.00 L330.88,390.05 L331.12,390.10 L331.38,390.15 L331.62,390.21 L331.88,390.26 L332.12,390.31 L332.38,390.36 L332.62,390.42 L332.88,390.47 L333.12,390.52 L333.38,390.57 L333.62,390.62 L333.88,390.68 L334.12,390.73 L334.38,390.78 L334.62,390.83 L334.88,390.88 L335.12,390.93 L335.38,390.98 L335.62,391.03 L335.88,391.08 L336.12,391.13 L336.38,391.18 L336.62,391.23 L336.88,391.28 L337.12,391.33 L337.38,391.38 L337.62,391.43 L337.88,391.47 L338.12,391.52 L338.38,391.57 L338.62,391.62 L338.88,391.67 L339.12,391.72 L339.38,391.76 L339.62,391.81 L339.88,391.86 L340.12,391.91 L340.38,391.95 L340.62,392.00 L340.88,392.05 L341.12,392.09 L341.38,392.14 L341.62,392.19 L341.88,392.23 L342.12,392.28 L342.38,392.33 L342.62,392.37 L342.88,392.42 L343.12,392.46 L343.38,392.51 L343.62,392.55 L343.88,392.60 L344.12,392.64 L344.38,392.69 L344.62,392.73 L344.88,392.78 L345.12,392.82 L345.38,392.87 L345.62,392.91 L345.88,392.96 L346.12,393.00 L346.38,393.04 L346.62,393.09 L346.88,393.13 L347.12,393.17 L347.38,393.22 L347.62,393.26 L347.88,393.30 L348.12,393.35 L348.38,393.39 L348.62,393.43 L348.88,393.48 L349.12,393.52 L349.38,393.56 L349.62,393.60 L349.88,393.64 L350.12,393.69 L350.38,393.73 L350.62,393.77 L350.88,393.81 L351.12,393.85 L351.38,393.89 L351.62,393.93 L351.88,393.97 L352.12,394.02 L352.38,394.06 L352.62,394.10 L352.88,394.14 L353.12,394.18 L353.38,394.22 L353.62,394.26 L353.88,394.30 L354.12,394.34 L354.38,394.38 L354.62,394.42 L354.88,394.46 L355.12,394.49 L355.38,394.53 L355.62,394.57 L355.88,394.61 L356.12,394.65 L356.38,394.69 L356.62,394.73 L356.88,394.77 L357.12,394.80 L357.38,394.84 L357.62,394.88 L357.88,394.92 L358.12,394.96 L358.38,394.99 L358.62,395.03 L358.88,395.07 L359.12,395.11 L359.38,395.14 L359.62,395.18 L359.88,395.22 L360.12,395.26 L360.38,395.29 L360.62,395.33 L360.88,395.37 L361.12,395.40 L361.38,395.44 L361.62,395.48 L361.88,395.51 L362.12,395.55 L362.38,395.58 L362.62,395.62 L362.88,395.66 L363.12,395.69 L363.38,395.73 L363.62,395.76 L363.88,395.80 L364.12,395.83 L364.38,395.87 L364.62,395.90 L364.88,395.94 L365.12,395.97 L365.38,396.01 L365.62,396.04 L365.88,396.08 L366.12,396.11 L366.38,396.14 L366.62,396.18 L366.88,396.21 L367.12,396.25 L367.38,396.28 L367.62,396.31 L367.88,396.35 L368.12,396.38 L368.38,396.42 L368.62,396.45 L368.88,396.48 L369.12,396.52 L369.38,396.55 L369.62,396.58 L369.88,396.61 L370.12,396.65 L370.38,396.68 L370.62,396.71 L370.88,396.75 L371.12,396.78 L371.38,396.81 L371.62,396.84 L371.88,396.88 L372.12,396.91 L372.38,396.94 L372.62,396.97 L372.88,397.00 L373.12,397.04 L373.38,397.07 L373.62,397.10 L373.88,397.13 L374.12,397.16 L374.38,397.19 L374.62,397.22 L374.88,397.26 L375.12,397.29 L375.38,397.32 L375.62,397.35 L375.88,397.38 L376.12,397.41 L376.38,397.44 L376.62,397.47 L376.88,397.50 L377.12,397.53 L377.38,397.56 L377.62,397.59 L377.88,397.62 L378.12,397.65 L378.38,397.68 L378.62,397.71 L378.88,397.74 L379.12,397.77 L379.38,397.80 L379.62,397.83 L379.88,397.86 L380.12,397.89 L380.38,397.92 L380.62,397.95 L380.88,397.98 L381.12,398.01 L381.38,398.04 L381.62,398.07 L381.88,398.10 L382.12,398.13 L382.38,398.15 L382.62,398.18 L382.88,398.21 L383.12,398.24 L383.38,398.27 L383.62,398.30 L383.88,398.33 L384.12,398.35 L384.38,398.38 L384.62,398.41 L384.88,398.44 L385.12,398.47 L385.38,398.50 L385.62,398.52 L385.88,398.55 L386.12,398.58 L386.38,398.61 L386.62,398.64 L386.88,398.66 L387.12,398.69 L387.38,398.72 L387.62,398.75 M399.52,399.99 L399.77,400.02 L400.02,400.04 L400.27,400.07 L400.52,400.09 L400.77,400.12 L401.02,400.14 L401.27,400.17 L401.52,400.19 L401.77,400.22 L402.02,400.24 L402.27,400.27 L402.52,400.29 L402.77,400.32 L403.02,400.34 L403.27,400.36 L403.52,400.39 L403.77,400.41 L404.02,400.44 L404.27,400.46 L404.52,400.48 L404.77,400.51 L405.02,400.53 L405.27,400.56 L405.52,400.58 L405.77,400.60 L406.02,400.63 L406.27,400.65 L406.52,400.68 L406.77,400.70 L407.02,400.72 L407.27,400.75 L407.52,400.77 L407.77,400.79 L408.02,400.82 L408.27,400.84 L408.52,400.86 L408.77,400.89 L409.02,400.91 L409.27,400.93 L409.52,400.96 L409.77,400.98 L410.02,401.00 L410.27,401.03 L410.52,401.05 L410.77,401.07 L411.02,401.09 L411.27,401.12 L411.52,401.14 L411.77,401.16 L412.02,401.19 L412.27,401.21 L412.52,401.23 L412.77,401.25 L413.02,401.28 L413.27,401.30 L413.52,401.32 L413.77,401.34 L414.02,401.37 L414.27,401.39 L414.52,401.41 L414.77,401.43 L415.02,401.45 L415.27,401.48 L415.52,401.50 L415.77,401.52 L416.02,401.54 L416.27,401.56 L416.52,401.59 L416.77,401.61 L417.02,401.63 L417.27,401.65 L417.52,401.67 L417.77,401.69 L418.02,401.72 L418.27,401.74 L418.52,401.76 L418.77,401.78 L419.02,401.80 L419.27,401.82 L419.52,401.84 L419.77,401.87 L420.02,401.89 L420.27,401.91 L420.52,401.93 L420.77,401.95 L421.02,401.97 L421.27,401.99 L421.52,402.01 L421.77,402.03 L422.02,402.05 L422.27,402.08 L422.52,402.10 L422.77,402.12 L423.02,402.14 L423.27,402.16 L423.52,402.18 L423.77,402.20 L424.02,402.22 L424.27,402.24 L424.52,402.26 L424.77,402.28 L425.02,402.30 L425.27,402.32 L425.52,402.34 L425.77,402.36 L426.02,402.38 L426.27,402.40 L426.52,402.42 L426.77,402.44 L427.02,402.46 L427.27,402.48 L427.52,402.50 L427.77,402.52 L428.02,402.54 L428.27,402.56 L428.52,402.58 L428.77,402.60 L429.02,402.62 L429.27,402.64 L429.52,402.66 L429.77,402.68 L430.02,402.70 L430.27,402.72 L430.52,402.74 L430.77,402.76 L431.02,402.78 L431.27,402.79 L431.52,402.81 L431.77,402.83 L432.02,402.85 L432.27,402.87 L432.52,402.89 L432.77,402.91 L433.02,402.93 L433.27,402.95 L433.52,402.97 L433.77,402.98 L434.02,403.00 L434.27,403.02 L434.52,403.04 L434.77,403.06 L435.02,403.08 L435.27,403.10 L435.52,403.11 L435.77,403.13 L436.02,403.15 L436.27,403.17 L436.52,403.19 L436.77,403.21 L437.02,403.22 L437.27,403.24 L437.52,403.26 L437.77,403.28 L438.02,403.30 L438.27,403.32 L438.52,403.33 L438.77,403.35 L439.02,403.37 L439.27,403.39 L439.52,403.40 L439.77,403.42 L440.02,403.44 L440.27,403.46 L440.52,403.48 L440.77,403.49 L441.02,403.51 L441.27,403.53 L441.52,403.55 L441.77,403.56 L442.02,403.58 L442.27,403.60 L442.52,403.61 L442.77,403.63 L443.02,403.65 L443.27,403.67 L443.52,403.68 L443.77,403.70 L444.02,403.72 L444.27,403.73 L444.52,403.75 L444.77,403.77 L445.02,403.79 L445.27,403.80 L445.52,403.82 L445.77,403.84 L446.02,403.85 L446.27,403.87 L446.52,403.89 L446.77,403.90 L447.02,403.92 L447.27,403.94 L447.52,403.95 L447.77,403.97 L448.02,403.98 L448.27,404.00 L448.52,404.02 L448.77,404.03 L449.02,404.05 L449.27,404.07 L449.52,404.08 L449.77,404.10 L450.02,404.11 L450.27,404.13 L450.52,404.15 L450.77,404.16 L451.02,404.18 L451.27,404.19 L451.52,404.21 L451.77,404.23 L452.02,404.24 L452.27,404.26 L452.52,404.27 L452.77,404.29 L453.02,404.30 L453.27,404.32 L453.52,404.33 L453.77,404.35 L454.02,404.37 L454.27,404.38 L454.52,404.40 L454.77,404.41 L455.02,404.43 L455.27,404.44 L455.52,404.46 L455.77,404.47 L456.02,404.49 L456.27,404.50 L456.52,404.52 L456.77,404.53 L457.02,404.55 L457.27,404.56 L457.52,404.58 L457.77,404.59 L458.02,404.61 L458.27,404.62 L458.52,404.64 L458.77,404.65 L459.02,404.67 L459.27,404.68 L459.52,404.69 L459.77,404.71 L460.02,404.72 L460.27,404.74 L460.52,404.75 L460.77,404.77 L461.02,404.78 L461.27,404.80 L461.52,404.81 L461.77,404.82 L462.02,404.84 L462.27,404.85 L462.52,404.87 L462.77,404.88 L463.02,404.89 L463.27,404.91 L463.52,404.92 L463.77,404.94 L464.02,404.95 L464.27,404.96 L464.52,404.98 L464.77,404.99 L465.02,405.01 L465.27,405.02 L465.52,405.03 L465.77,405.05 L466.02,405.06 L466.27,405.07 L466.52,405.09 L466.77,405.10 L467.02,405.11 L467.27,405.13 L467.52,405.14 L467.77,405.15 L468.02,405.17 L468.27,405.18 L468.52,405.19 L468.77,405.21 L469.02,405.22 L469.27,405.23 L469.52,405.25 L469.77,405.26 L470.02,405.27 L470.27,405.28 L470.52,405.30 L470.77,405.31 L471.02,405.32 L471.27,405.34 L471.52,405.35 L471.77,405.36 L472.02,405.37 L472.27,405.39 L472.52,405.40 L472.77,405.41 L473.02,405.42 L473.27,405.44 L473.52,405.45 L473.77,405.46 L474.02,405.47 L474.27,405.49 L474.52,405.50 L474.77,405.51 L475.02,405.52 L475.27,405.54 L475.52,405.55 L475.77,405.56 L476.02,405.57 L476.27,405.58 L476.52,405.60 L476.77,405.61 L477.02,405.62 L477.27,405.63 L477.52,405.64 L477.77,405.66 L478.02,405.67 L478.27,405.68 L478.52,405.69 L478.77,405.70 L479.02,405.71 L479.27,405.73 L479.52,405.74 L479.77,405.75 L480.02,405.76 L480.27,405.77 M491.42,406.25 L491.67,406.26 L491.92,406.27 L492.17,406.28 L492.42,406.29 L492.67,406.30 L492.92,406.31 L493.17,406.32 L493.42,406.33 L493.67,406.34 L493.92,406.35 L494.17,406.36 L494.42,406.36 L494.67,406.37 L494.92,406.38 L495.17,406.39 L495.42,406.40 L495.67,406.41 L495.92,406.42 L496.17,406.43 L496.42,406.44 L496.67,406.45 L496.92,406.46 L497.17,406.47 L497.42,406.48 L497.67,406.49 L497.92,406.50 L498.17,406.50 L498.42,406.51 L498.67,406.52 L498.92,406.53 L499.17,406.54 L499.42,406.55 L499.67,406.56 L499.92,406.57 L500.17,406.58 L500.42,406.59 L500.67,406.59 L500.92,406.60 L501.17,406.61 L501.42,406.62 L501.67,406.63 L501.92,406.64 L502.17,406.65 L502.42,406.66 L502.67,406.66 L502.92,406.67 L503.17,406.68 L503.42,406.69 L503.67,406.70 L503.92,406.71 L504.17,406.71 L504.42,406.72 L504.67,406.73 L504.92,406.74 L505.17,406.75 L505.42,406.76 L505.67,406.76 L505.92,406.77 L506.17,406.78 L506.42,406.79 L506.67,406.80 L506.92,406.81 L507.17,406.81 L507.42,406.82 L507.67,406.83 L507.92,406.84 L508.17,406.85 L508.42,406.85 L508.67,406.86 L508.92,406.87 L509.17,406.88 L509.42,406.89 L509.67,406.89 L509.92,406.90 L510.17,406.91 L510.42,406.92 L510.67,406.92 L510.92,406.93 L511.17,406.94 L511.42,406.95 L511.67,406.96 L511.92,406.96 L512.17,406.97 L512.42,406.98 L512.67,406.99 L512.92,406.99 L513.17,407.00 L513.42,407.01 L513.67,407.02 L513.92,407.02 L514.17,407.03 L514.42,407.04 L514.67,407.05 L514.92,407.05 L515.17,407.06 L515.42,407.07 L515.67,407.07 L515.92,407.08 L516.17,407.09 L516.42,407.10 L516.67,407.10 L516.92,407.11 L517.17,407.12 L517.42,407.12 L517.67,407.13 L517.92,407.14 L518.17,407.15 L518.42,407.15 L518.67,407.16 L518.92,407.17 L519.17,407.17 L519.42,407.18 L519.67,407.19 L519.92,407.19 L520.17,407.20 L520.42,407.21 L520.67,407.21 L520.92,407.22 L521.17,407.23 L521.42,407.23 L521.67,407.24 L521.92,407.25 L522.17,407.25 L522.42,407.26 L522.67,407.27 L522.92,407.27 L523.17,407.28 L523.42,407.29 L523.67,407.29 L523.92,407.30 L524.17,407.31 L524.42,407.31 L524.67,407.32 L524.92,407.33 L525.17,407.33 L525.42,407.34 L525.67,407.35 L525.92,407.35 L526.17,407.36 L526.42,407.37 L526.67,407.37 L526.92,407.38 L527.17,407.38 L527.42,407.39 L527.67,407.40 L527.92,407.40 L528.17,407.41 L528.42,407.42 L528.67,407.42 L528.92,407.43 L529.17,407.43 L529.42,407.44 L529.67,407.45 L529.92,407.45 L530.17,407.46 L530.42,407.46 L530.67,407.47 L530.92,407.48 L531.17,407.48 L531.42,407.49 L531.67,407.49 L531.92,407.50 L532.17,407.51 L532.42,407.51 L532.67,407.52 L532.92,407.52 L533.17,407.53 L533.42,407.54 L533.67,407.54 L533.92,407.55 L534.17,407.55 L534.42,407.56 L534.67,407.56 L534.92,407.57 L535.17,407.58 L535.42,407.58 L535.67,407.59 L535.92,407.59 L536.17,407.60 L536.42,407.60 L536.67,407.61 L536.92,407.62 L537.17,407.62 L537.42,407.63 L537.67,407.63 L537.92,407.64 L538.17,407.64 L538.42,407.65 L538.67,407.65 L538.92,407.66 L539.17,407.67 L539.42,407.67 L539.67,407.68 L539.92,407.68 L540.17,407.69 L540.42,407.69 L540.67,407.70 L540.92,407.70 L541.17,407.71 L541.42,407.71 L541.67,407.72 L541.92,407.72 L542.17,407.73 L542.42,407.74 L542.67,407.74 L542.92,407.75 L543.17,407.75 L543.42,407.76 L543.67,407.76 L543.92,407.77 L544.17,407.77 L544.42,407.78 L544.67,407.78 L544.92,407.79 L545.17,407.79 L545.42,407.80 L545.67,407.80 L545.92,407.81 L546.17,407.81 L546.42,407.82 L546.67,407.82 L546.92,407.83 L547.17,407.83 L547.42,407.84 L547.67,407.84 L547.92,407.85 L548.17,407.85 L548.42,407.86 L548.67,407.86 L548.92,407.87 L549.17,407.87 L549.42,407.88 L549.67,407.88 L549.92,407.89 L550.17,407.89 L550.42,407.90 L550.67,407.90 L550.92,407.91 L551.17,407.91 L551.42,407.92 L551.67,407.92 L551.92,407.93 L552.17,407.93 L552.42,407.94 L552.67,407.94 L552.92,407.95 L553.17,407.95 L553.42,407.96 L553.67,407.96 L553.92,407.97 L554.17,407.97 L554.42,407.98 L554.67,407.98 L554.92,407.99 L555.17,407.99 L555.42,407.99 L555.67,408.00 L555.92,408.00 L556.17,408.01 L556.42,408.01 L556.67,408.02 L556.92,408.02 L557.17,408.03 L557.42,408.03 L557.67,408.04 L557.92,408.04 L558.17,408.05 L558.42,408.05 L558.67,408.06 L558.92,408.06 L559.17,408.06 L559.42,408.07 L559.67,408.07 L559.92,408.08 L560.17,408.08 L560.42,408.09 L560.67,408.09 L560.92,408.10 L561.17,408.10 L561.42,408.11 L561.67,408.11 L561.92,408.12 L562.17,408.12 L562.42,408.12 L562.67,408.13 L562.92,408.13 L563.17,408.14 L563.42,408.14 L563.67,408.15 L563.92,408.15 L564.17,408.16 L564.42,408.16 L564.67,408.16 L564.92,408.17 L565.17,408.17 L565.42,408.18 L565.67,408.18 L565.92,408.19 L566.17,408.19 L566.42,408.20 L566.67,408.20 L566.92,408.20 L567.17,408.21 L567.42,408.21 L567.67,408.22 L567.92,408.22 L568.17,408.23 L568.42,408.23 L568.67,408.24 L568.92,408.24 L569.17,408.24 L569.42,408.25 L569.67,408.25 L569.92,408.26 L570.17,408.26 L570.42,408.27 L570.67,408.27 L570.92,408.28 L571.17,408.28 L571.42,408.28 L571.67,408.29 L571.92,408.29 L572.17,408.30 L572.42,408.30 L572.67,408.31 L572.92,408.31" fill="none" stroke="#0000ff" stroke-width="2"/>
<path d="M114.82,155.80 V167.60 M110.82,155.80 H118.82 M110.82,167.60 H118.82" stroke="#505050" stroke-width="1.3" fill="none"/>
<rect x="112.07" y="158.95" width="5.5" height="5.5" rx="1" fill="#000"/>
<path d="M161.15,107.50 V119.50 M157.15,107.50 H165.15 M157.15,119.50 H165.15" stroke="#505050" stroke-width="1.3" fill="none"/>
<rect x="158.40" y="110.75" width="5.5" height="5.5" rx="1" fill="#000"/>
<path d="M207.47,87.30 V98.90 M203.47,87.30 H211.47 M203.47,98.90 H211.47" stroke="#505050" stroke-width="1.3" fill="none"/>
<rect x="204.72" y="90.35" width="5.5" height="5.5" rx="1" fill="#000"/>
<path d="M253.80,68.20 V78.60 M249.80,68.20 H257.80 M249.80,78.60 H257.80" stroke="#505050" stroke-width="1.3" fill="none"/>
<rect x="251.05" y="70.65" width="5.5" height="5.5" rx="1" fill="#000"/>
<path d="M300.12,52.20 V66.60 M296.12,52.20 H304.12 M296.12,66.60 H304.12" stroke="#505050" stroke-width="1.3" fill="none"/>
<rect x="297.38" y="56.65" width="5.5" height="5.5" rx="1" fill="#000"/>
<path d="M392.77,46.10 V52.10 M388.77,46.10 H396.77 M388.77,52.10 H396.77" stroke="#505050" stroke-width="1.3" fill="none"/>
<rect x="390.02" y="46.35" width="5.5" height="5.5" rx="1" fill="#000"/>
<path d="M485.42,41.85 V47.85 M481.42,41.85 H489.42 M481.42,47.85 H489.42" stroke="#505050" stroke-width="1.3" fill="none"/>
<rect x="482.67" y="42.10" width="5.5" height="5.5" rx="1" fill="#000"/>
<path d="M578.08,42.30 V48.30 M574.08,42.30 H582.08 M574.08,48.30 H582.08" stroke="#505050" stroke-width="1.3" fill="none"/>
<rect x="575.33" y="42.55" width="5.5" height="5.5" rx="1" fill="#000"/>
<path d="M114.82,28.80 V59.90" stroke="#a4a4ff" stroke-width="1.4" fill="none"/>
<path d="M111.02,28.80 H118.62 M111.02,59.90 H118.62" stroke="#8080ff" stroke-width="1.3" fill="none"/>
<path d="M114.82,40.85 L118.42,46.55 L111.22,46.55 Z" fill="#0000ff"/>
<path d="M161.15,241.20 V259.90" stroke="#a4a4ff" stroke-width="1.4" fill="none"/>
<path d="M157.35,241.20 H164.95 M157.35,259.90 H164.95" stroke="#8080ff" stroke-width="1.3" fill="none"/>
<path d="M161.15,247.05 L164.75,252.75 L157.55,252.75 Z" fill="#0000ff"/>
<path d="M207.47,312.30 V326.10" stroke="#a4a4ff" stroke-width="1.4" fill="none"/>
<path d="M203.67,312.30 H211.28 M203.67,326.10 H211.28" stroke="#8080ff" stroke-width="1.3" fill="none"/>
<path d="M207.47,315.70 L211.07,321.40 L203.88,321.40 Z" fill="#0000ff"/>
<path d="M253.80,354.60 V365.50" stroke="#a4a4ff" stroke-width="1.4" fill="none"/>
<path d="M250.00,354.60 H257.60 M250.00,365.50 H257.60" stroke="#8080ff" stroke-width="1.3" fill="none"/>
<path d="M253.80,356.55 L257.40,362.25 L250.20,362.25 Z" fill="#0000ff"/>
<path d="M300.12,376.10 V388.10" stroke="#a4a4ff" stroke-width="1.4" fill="none"/>
<path d="M296.32,376.10 H303.93 M296.32,388.10 H303.93" stroke="#8080ff" stroke-width="1.3" fill="none"/>
<path d="M300.12,378.60 L303.73,384.30 L296.52,384.30 Z" fill="#0000ff"/>
<path d="M392.77,397.40 V401.20" stroke="#a4a4ff" stroke-width="1.4" fill="none"/>
<path d="M388.97,397.40 H396.57 M388.97,401.20 H396.57" stroke="#8080ff" stroke-width="1.3" fill="none"/>
<path d="M392.77,395.80 L396.38,401.50 L389.17,401.50 Z" fill="#0000ff"/>
<path d="M485.42,404.10 V407.90" stroke="#a4a4ff" stroke-width="1.4" fill="none"/>
<path d="M481.62,404.10 H489.22 M481.62,407.90 H489.22" stroke="#8080ff" stroke-width="1.3" fill="none"/>
<path d="M485.42,402.50 L489.02,408.20 L481.82,408.20 Z" fill="#0000ff"/>
<path d="M578.08,406.90 V409.90" stroke="#a4a4ff" stroke-width="1.4" fill="none"/>
<path d="M574.28,406.90 H581.88 M574.28,409.90 H581.88" stroke="#8080ff" stroke-width="1.3" fill="none"/>
<path d="M578.08,404.90 L581.68,410.60 L574.48,410.60 Z" fill="#0000ff"/>
<line x1="408" y1="337.1" x2="453" y2="337.1" stroke="#111" stroke-width="1.6"/>
<rect x="427.6" y="334.6" width="5" height="5" fill="#000"/>
<line x1="408" y1="361.6" x2="453" y2="361.6" stroke="#0000ff" stroke-width="2"/>
<path d="M430.3,358 L433.5,363.4 L427.1,363.4 Z" fill="#0000ff"/>
<text x="458" y="343.6" class="lg">removal rate</text>
<text x="458" y="367" class="lg">removal amount</text>
<text x="253.5" y="474.2" class="ti">Microbial dosage <tspan font-style="italic">(g/L)</tspan></text>
<text transform="translate(16.3,217.2) rotate(-90)" class="ti">(%)</text>
<text transform="translate(23.6,228) rotate(-90)" class="sub">1</text>
<text transform="translate(16.6,243.2) rotate(-90) skewX(-6)" class="ti" style="font-style:italic;font-size:21.5px">Q</text>
<text transform="translate(675.1,244.8) rotate(-90)" class="ti">(mg/L)</text>
<text transform="translate(682,255.3) rotate(-90)" class="sub">2</text>
<text transform="translate(675.4,270.2) rotate(-90) skewX(-6)" class="ti" style="font-style:italic;font-size:21.5px">Q</text>
</svg>
</body></html>
